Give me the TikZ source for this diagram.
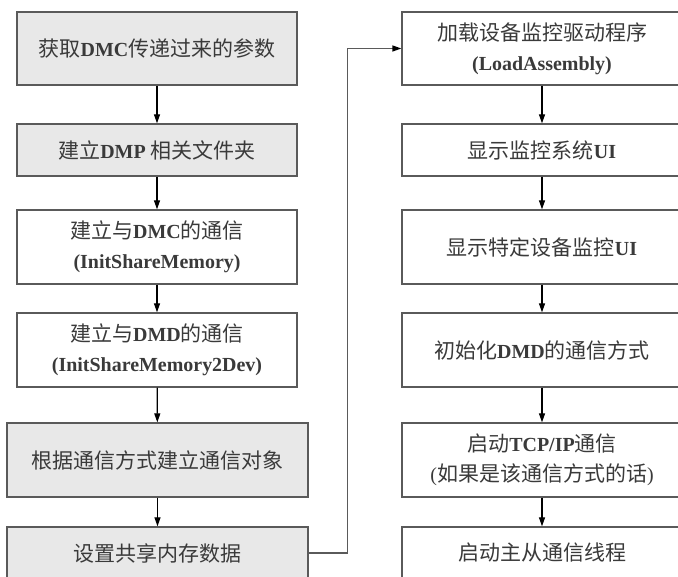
\documentclass[tikz,border=0pt]{standalone}
\usepackage{fontspec}
\setmainfont[Scale=0.95]{Liberation Serif}
\newfontfamily\cjk{Noto Sans CJK SC}
\usetikzlibrary{arrows.meta}
\definecolor{boxline}{HTML}{5A5A5A}
\definecolor{boxfill}{HTML}{E8E8E8}
\definecolor{textcol}{HTML}{3A3A3A}
\newcommand{\zh}[1]{{\cjk #1}}
\newcommand{\en}[1]{\textbf{#1}}
\begin{document}
\begin{tikzpicture}[x=1pt,y=-1pt,
  box/.style={draw=boxline, line width=1.3pt, minimum width=280pt, inner sep=0pt,
              align=center, text=textcol, font=\fontsize{21}{30}\selectfont},
  wide/.style={minimum width=301pt},
  grey/.style={fill=boxfill},
  flow/.style={draw=black, line width=1.2pt, -{Triangle[length=9pt,width=6pt]}},
  link/.style={draw=boxline, line width=1.4pt, -{Triangle[length=9pt,width=6pt,fill=black,color=black]}}]
\useasboundingbox (0,0) rectangle (678,577);
\fill[white] (0,0) rectangle (678,577);
\clip (0,0) rectangle (678,577);

% left column
\node[box,grey,minimum height=73pt] (L1) at (157,48.5) {\zh{获取}\en{DMC}\zh{传递过来的参数}};
\node[box,grey,minimum height=52pt] (L2) at (157,150) {\zh{建立}\en{DMP} \zh{相关文件夹}};
\node[box,minimum height=74pt] (L3) at (157,247) {\zh{建立与}\en{DMC}\zh{的通信}\\\en{(InitShareMemory)}};
\node[box,minimum height=74pt] (L4) at (157,350) {\zh{建立与}\en{DMD}\zh{的通信}\\\en{(InitShareMemory2Dev)}};
\node[box,grey,wide,minimum height=74pt] (L5) at (157.5,460) {\zh{根据通信方式建立通信对象}};
\node[box,grey,wide,minimum height=52pt] (L6) at (157.5,553) {\zh{设置共享内存数据}};

% right column
\node[box,minimum height=73pt] (R1) at (542,48.5) {\zh{加载设备监控驱动程序}\\\en{(LoadAssembly)}};
\node[box,minimum height=52pt] (R2) at (542,150) {\zh{显示监控系统}\en{UI}};
\node[box,minimum height=74pt] (R3) at (542,247) {\zh{显示特定设备监控}\en{UI}};
\node[box,minimum height=74pt] (R4) at (542,350) {\zh{初始化}\en{DMD}\zh{的通信方式}};
\node[box,minimum height=74pt] (R5) at (542,460) {\zh{启动}\en{TCP/IP}\zh{通信}\\(\zh{如果是该通信方式的话})};
\node[box,minimum height=52pt] (R6) at (542,553) {\zh{启动主从通信线程}};

% connectors
\draw[flow] (L1) -- (L2);
\draw[flow] (L2) -- (L3);
\draw[flow] (L3) -- (L4);
\draw[flow] (L4) -- (L5);
\draw[flow] (L5) -- (L6);
\draw[flow] (R1) -- (R2);
\draw[flow] (R2) -- (R3);
\draw[flow] (R3) -- (R4);
\draw[flow] (R4) -- (R5);
\draw[flow] (R5) -- (R6);
\draw[link] (L6.east) -- ++(39,0) |- (R1.west);
\end{tikzpicture}
\end{document}
